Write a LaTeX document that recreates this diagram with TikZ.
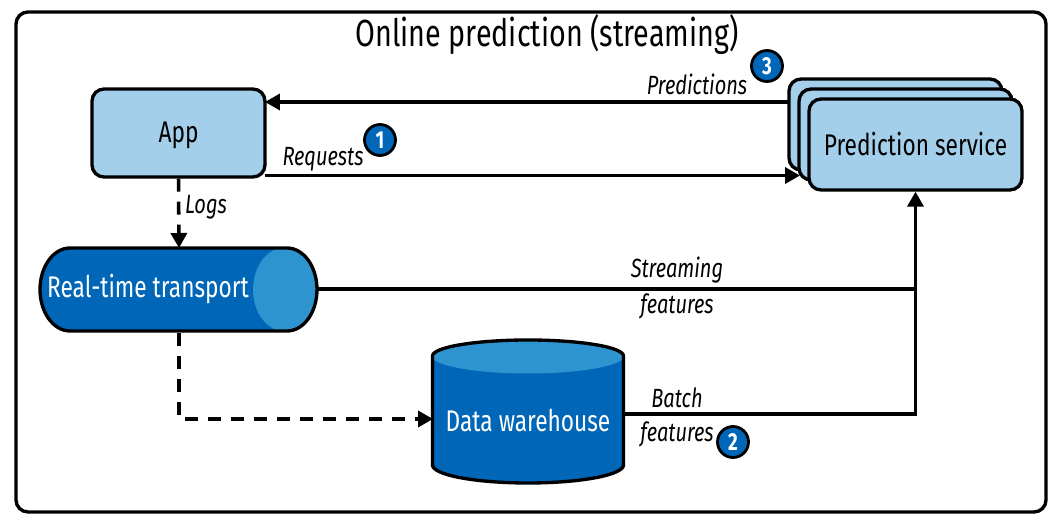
\documentclass[tikz,border=0pt]{standalone}
\usepackage{fontspec}
\setmainfont[FakeStretch=0.76]{Fira Sans}
\usetikzlibrary{arrows.meta}
\definecolor{lightblue}{HTML}{A3CFEB}
\definecolor{midblue}{HTML}{2E94D0}
\definecolor{darkblue}{HTML}{0066B8}
\tikzset{
    boxstyle/.style={draw=black, line width=1.9pt, rounded corners=0.24cm, fill=lightblue, font=\fontsize{17}{18}\selectfont, minimum width=4.26cm, minimum height=1.82cm},
    pipe/.style={draw=black, line width=1.9pt, fill=darkblue},
    pipelabel/.style={text=white, inner sep=0pt, font=\fontsize{17}{18}\selectfont},
    badge/.style={circle, draw=black, line width=1.6pt, fill=darkblue, text=white, inner sep=0pt, minimum size=0.62cm, font=\bfseries\fontsize{14}{16}\selectfont},
    flowlabel/.style={font=\itshape\fontsize{15}{16}\selectfont, inner sep=0pt},
    flow/.style={line width=2pt, -{Triangle[length=0.3cm,width=0.32cm]}},
    plainflow/.style={line width=2pt},
    dashflow/.style={flow, dash pattern=on 0.26cm off 0.2cm}
}
\begin{document}
\begin{tikzpicture}[x=0.02cm, y=-0.02cm]
    \useasboundingbox (0,0) rectangle (1062,526);
    % Outer frame and title
    \draw[line width=1.9pt, rounded corners=0.24cm] (16,12) rectangle (1046,512);
    \node[font=\fontsize{21.5}{24}\selectfont, inner sep=0pt] (title) at (547,35) {Online prediction (streaming)};
    % Boxes
    \node[boxstyle, minimum width=3.46cm, minimum height=1.76cm, text height=0.5cm] (app) at (178.5,133) {App};
    \node[boxstyle] (psback) at (895.5,124.5) {};
    \node[boxstyle] (psmid) at (905.5,134.5) {};
    \node[boxstyle] (ps) at (915.5,144.5) {Prediction service};
    % Stores
    \draw[pipe, path picture={\fill[midblue] (285,289.5) ellipse (32 and 42);}]
        (70,248) -- (287,248) arc[start angle=270, end angle=450, x radius=30, y radius=41.5]
        -- (70,331) arc[start angle=90, end angle=270, x radius=30, y radius=41.5] -- cycle;
    \node[pipelabel] (rtt) at (148,289) {Real-time transport};
    \draw[pipe, path picture={\fill[midblue] (528,356) ellipse (96 and 17.5);}]
        (432.5,356) arc[start angle=180, end angle=360, x radius=95.5, y radius=16]
        -- (623.5,465) arc[start angle=0, end angle=180, x radius=95.5, y radius=18] -- cycle;
    \node[pipelabel] (dw) at (528,421) {Data warehouse};
    % Free ends of the connectors
    \coordinate (appin) at (265,102);
    \coordinate (psout) at (789,102);
    \coordinate (appout) at (265,175.5);
    \coordinate (psin) at (800,175.5);
    \coordinate (rttin) at (179,248);
    \coordinate (rttout) at (179,333);
    \coordinate (rttend) at (317,289);
    \coordinate (join) at (916,289);
    \coordinate (dwin) at (433,419);
    \coordinate (dwout) at (624,414);
    % Connectors
    \draw[flow] (psout) -- (appin);
    \draw[flow] (appout) -- (psin);
    \draw[dashflow] (app.south) -- (rttin);
    \draw[plainflow] (rttend) -- (join);
    \draw[flow] (dwout) -| (ps.south);
    \draw[dashflow] (rttout) |- (dwin);
    % Labels
    \node[flowlabel] (predictions) at (697,84) {Predictions};
    \node[flowlabel] (requests) at (323,159) {Requests};
    \node[flowlabel] (logs) at (206,207) {Logs};
    \node[flowlabel] (streaming) at (677,270) {Streaming};
    \node[flowlabel] (sfeatures) at (677,306) {features};
    \node[flowlabel] (batch) at (677,398) {Batch};
    \node[flowlabel] (bfeatures) at (677,434) {features};
    % Numbered badges
    \node[badge] (one) at (380,140) {1};
    \node[badge] (two) at (733,442) {2};
    \node[badge] (three) at (767,66) {3};
\end{tikzpicture}
\end{document}
